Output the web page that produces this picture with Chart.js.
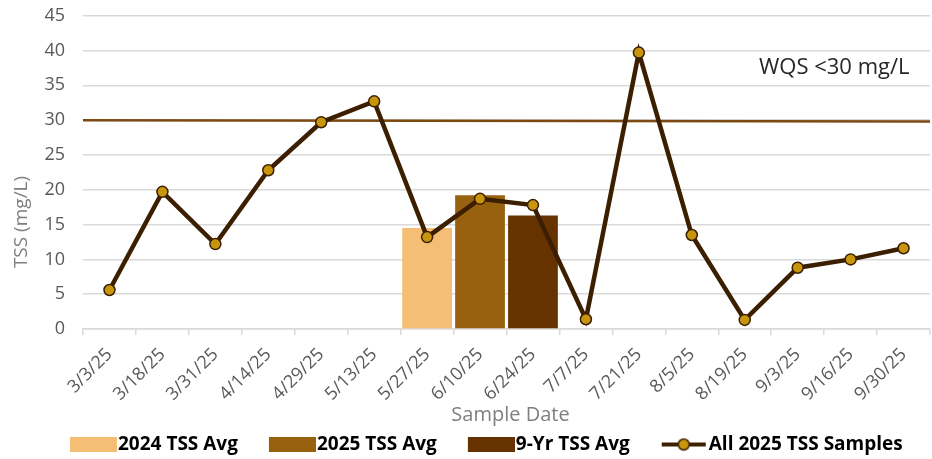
<!DOCTYPE html>
<html>
<head>
<meta charset="utf-8">
<script src="https://cdn.jsdelivr.net/npm/chart.js@4/dist/chart.umd.min.js"></script>
<style>
  html, body { margin: 0; padding: 0; background: #fff; overflow: hidden; }
  #wrap { width: 937px; height: 459px; }
</style>
</head>
<body>
<div id="wrap"><canvas id="tssChart"></canvas></div>
<script>
// sample dates (category axis) and TSS readings in mg/L
const sampleDates = ['3/3/25','3/18/25','3/31/25','4/14/25','4/29/25','5/13/25','5/27/25','6/10/25',
                     '6/24/25','7/7/25','7/21/25','8/5/25','8/19/25','9/3/25','9/16/25','9/30/25'];
const sampleTSS = [5.6, 19.7, 12.2, 22.8, 29.7, 32.7, 13.2, 18.7, 17.8, 1.4, 39.7, 13.5, 1.3, 8.8, 10.0, 11.6];

// average bars, and the date slot each one sits in
const avgLabels = ['2024 TSS Avg', '2025 TSS Avg', '9-Yr TSS Avg'];
const avgValues = [14.5, 19.2, 16.3];
const avgSlots = ['5/27/25', '6/10/25', '6/24/25'];
const avgColors = ['#F4BE74', '#98610F', '#663300'];

// water quality standard line (start / end)
const wqsValues = [30.0, 29.8];
const yTicks = { min: 0, max: 45, step: 5 };

const lineColor = '#3B1F00';
const pointColor = '#C8960C';
const fontFam = '"Open Sans", sans-serif';

// legend icons: 57px wide, the visible 47px sits at the right so the text follows closely
const ICON_W = 57;
function swatch(color) {
  let c = document.createElement('canvas');
  c.width = ICON_W; c.height = 15;
  let g = c.getContext('2d');
  g.fillStyle = color;
  g.fillRect(ICON_W - 47, 0, 47, 15);
  return c;
}
function lineSwatch() {
  let c = document.createElement('canvas');
  c.width = ICON_W; c.height = 14;
  let g = c.getContext('2d');
  let x0 = ICON_W - 47;
  g.strokeStyle = lineColor; g.lineWidth = 4;
  g.beginPath(); g.moveTo(x0 + 1, 7); g.lineTo(x0 + 45, 7); g.stroke();
  g.beginPath(); g.arc(x0 + 23, 7, 5.5, 0, Math.PI * 2);
  g.fillStyle = pointColor; g.fill();
  g.lineWidth = 1.5; g.stroke();
  return c;
}

let datasets = [];
datasets.push({
  type: 'line',
  label: 'All 2025 TSS Samples',
  data: sampleTSS,
  borderColor: lineColor,
  borderWidth: 4.5,
  pointRadius: 5.5,
  pointBackgroundColor: pointColor,
  pointBorderColor: lineColor,
  pointBorderWidth: 1.5,
  tension: 0,
  order: 0
});
datasets.push({
  type: 'line',
  label: 'WQS',
  xAxisID: 'xw',
  data: wqsValues.map((v, i) => ({ x: i, y: v })),
  borderColor: '#7B4A12',
  borderWidth: 2.5,
  pointRadius: 0,
  order: 1
});
for (let i = 0; i < avgLabels.length; i++) {
  datasets.push({
    type: 'bar',
    label: avgLabels[i],
    data: sampleDates.map(d => d === avgSlots[i] ? avgValues[i] : null),
    backgroundColor: avgColors[i],
    grouped: false,
    barPercentage: 0.94,
    categoryPercentage: 1,
    order: 2
  });
}

// text that sits outside the chart.js title system
const extraText = {
  id: 'extraText',
  afterDraw(chart) {
    let ctx = chart.ctx, a = chart.chartArea;
    ctx.save();
    ctx.fillStyle = '#7F7F7F';
    ctx.font = '20px ' + fontFam;
    ctx.textAlign = 'center';
    ctx.textBaseline = 'middle';
    ctx.fillText('Sample Date', (a.left + a.right) / 2 + 4, 415);
    ctx.translate(22, 222);
    ctx.rotate(-Math.PI / 2);
    ctx.font = '19px ' + fontFam;
    ctx.fillText('TSS (mg/L)', 0, 0);
    ctx.restore();

    ctx.save();
    ctx.fillStyle = '#262626';
    ctx.font = '22px ' + fontFam;
    ctx.textAlign = 'left';
    ctx.textBaseline = 'middle';
    ctx.fillText('WQS <30 mg/L', 759, 68);
    ctx.restore();
  }
};

const legendIcons = [swatch(avgColors[0]), swatch(avgColors[1]), swatch(avgColors[2]), lineSwatch()];

new Chart(document.getElementById('tssChart'), {
  type: 'bar',
  data: { labels: sampleDates, datasets: datasets },
  options: {
    responsive: true,
    maintainAspectRatio: false,
    animation: false,
    layout: { padding: { left: 39, top: 15.7, right: 0, bottom: -5 } },
    plugins: {
      tooltip: { enabled: false },
      legend: {
        position: 'bottom',
        align: 'start',
        labels: {
          usePointStyle: true,
          pointStyleWidth: ICON_W - 17,
          boxHeight: 15,
          padding: 29.5,
          color: '#595959',
          font: { family: fontFam, size: 19, weight: 'bold' },
          generateLabels: () => {
            let names = avgLabels.concat(['All 2025 TSS Samples']);
            return names.map((n, i) => ({
              text: n,
              pointStyle: legendIcons[i],
              fillStyle: '#fff',
              strokeStyle: '#fff',
              lineWidth: 0,
              hidden: false,
              datasetIndex: i
            }));
          }
        }
      }
    },
    scales: {
      x: {
        offset: true,
        grid: { offset: true, drawOnChartArea: false, tickLength: 6, color: '#D9D9D9', lineWidth: 1.5 },
        border: { display: true, color: '#D9D9D9', width: 1.5 },
        ticks: {
          autoSkip: false, minRotation: 45, maxRotation: 45, padding: 9,
          color: '#595959', font: { family: fontFam, size: 18 }
        },
        afterFit: s => { s.height = 76.5; }
      },
      xw: { type: 'linear', display: false, offset: false, min: 0, max: 1 },
      y: {
        min: yTicks.min, max: yTicks.max,
        // gap to the plot comes from an invisible tick mark, so the top label needs no extra room
        ticks: { stepSize: yTicks.step, padding: 0, color: '#595959', font: { family: fontFam, size: 18 } },
        grid: { color: '#D9D9D9', lineWidth: 1.5, drawTicks: true, tickLength: 18, tickColor: 'rgba(0,0,0,0)' },
        border: { display: false },
        afterFit: s => { s.width = 44; }
      }
    }
  },
  plugins: [extraText]
});
</script>
</body>
</html>
